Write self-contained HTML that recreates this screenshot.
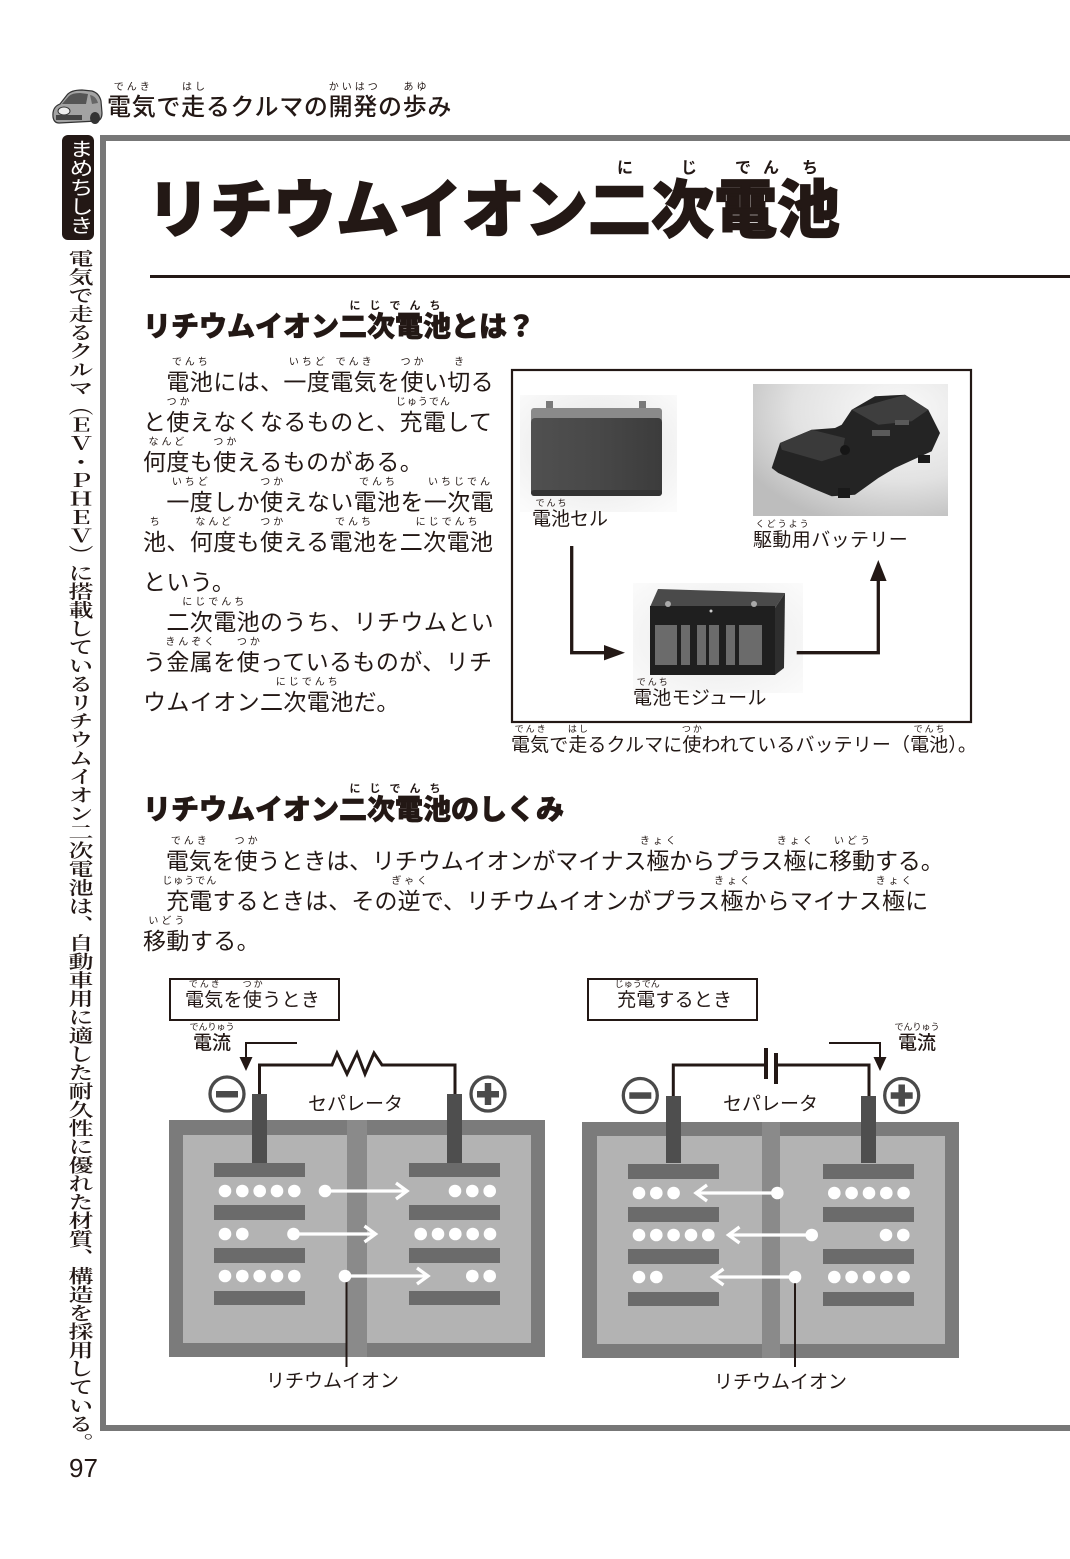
<!DOCTYPE html>
<html><head><meta charset="utf-8">
<style>
html,body{margin:0;padding:0}
body{width:1070px;height:1559px;position:relative;overflow:hidden;background:#fff;font-family:"Liberation Sans","Noto Sans CJK JP",sans-serif;color:#231815}
svg{position:absolute;left:0;top:0}
.t{position:absolute;white-space:nowrap}
.r{position:relative}
.r i{position:absolute;left:-30px;right:-30px;bottom:100%;margin-bottom:1px;font-style:normal;font-weight:400;font-size:10px;line-height:10px;letter-spacing:3px;text-indent:3px;text-align:center;-webkit-text-stroke:0}
.p{font-size:23px;line-height:40px;letter-spacing:0.4px}
.h{font-size:28px;line-height:40px;font-weight:900;-webkit-text-stroke:0.7px #231815}
.h .r i{font-size:11px;letter-spacing:9px;text-indent:9px;font-weight:700;margin-bottom:0}
.s{font-size:19px;line-height:26px}
.s .r i{font-size:9px;line-height:9px;letter-spacing:2px;text-indent:2px}
.tr{position:absolute;font-size:16px;line-height:16px;font-weight:700;width:16px;text-align:center}
</style></head><body>

<svg width="1070" height="1559" viewBox="0 0 1070 1559">
<defs>
<radialGradient id="bg1" cx="0.5" cy="0.45" r="0.7"><stop offset="0" stop-color="#e2e2e2"/><stop offset="1" stop-color="#fbfbfb"/></radialGradient>
<radialGradient id="bg2" cx="0.75" cy="0.2" r="0.9"><stop offset="0" stop-color="#fafafa"/><stop offset="0.6" stop-color="#e2e2e2"/><stop offset="1" stop-color="#bdbdbd"/></radialGradient>
<radialGradient id="bg3" cx="0.5" cy="0.5" r="0.7"><stop offset="0" stop-color="#e8e8e8"/><stop offset="1" stop-color="#fbfbfb"/></radialGradient>
<linearGradient id="cellg" x1="0" y1="0" x2="1" y2="0"><stop offset="0" stop-color="#505050"/><stop offset="0.5" stop-color="#484848"/><stop offset="1" stop-color="#3c3c3c"/></linearGradient>
</defs>

<!-- car icon -->
<g>
<path d="M53 117 Q52 107 60 104 L67 95 Q71 90 82 90 L92 91 Q99 93 101 101 L102 113 Q102 120 97 121 L59 123 Q54 123 53 117Z" fill="#a3a3a3" stroke="#333" stroke-width="1.2"/>
<path d="M62 104 L69 96 Q72 93 80 93 L88 94 L86 104 Z" fill="#555"/>
<path d="M90 95 Q96 96 98 103 L92 104 Z" fill="#666"/>
<ellipse cx="64" cy="111" rx="6" ry="4" fill="#eee" stroke="#333"/>
<rect x="56" y="115" width="26" height="5" fill="#444"/>
<ellipse cx="95" cy="118" rx="5" ry="6" fill="#333"/>
</g>

<!-- まめちしき box -->
<rect x="62" y="135" width="32" height="105" rx="6" fill="#231815"/>

<!-- frame -->
<rect x="100" y="135" width="970" height="6" fill="#777"/>
<rect x="100" y="135" width="6" height="1296" fill="#777"/>
<rect x="100" y="1425" width="970" height="6" fill="#777"/>

<!-- title rule -->
<rect x="150" y="275" width="920" height="3" fill="#231815"/>

<!-- photo box -->
<rect x="512" y="370" width="459" height="352" fill="none" stroke="#231815" stroke-width="2.2"/>

<!-- cell photo -->
<rect x="520" y="395" width="157" height="117" fill="url(#bg1)"/>
<rect x="546" y="401" width="7" height="11" fill="#7a7a7a"/>
<rect x="639" y="401" width="7" height="11" fill="#7a7a7a"/>
<rect x="531" y="408" width="131" height="15" rx="3" fill="#8a8a8a"/>
<rect x="531" y="418" width="131" height="78" rx="4" fill="url(#cellg)"/>
<rect x="531" y="490" width="131" height="6" rx="3" fill="#333"/>

<!-- drive battery photo -->
<rect x="753" y="384" width="195" height="132" fill="url(#bg2)"/>
<polygon points="771.7,468 780,443 811.7,429.7 835,428 841.7,424.7 851.7,409.7 875,396.3 905,394.7 928.3,409.7 940,433 931.7,451.3 895,468 878.3,478 855,494.7 831.7,496.3 811.7,488 778.3,473" fill="#242424"/>
<polygon points="780,443 811.7,429.7 845,438 841.7,454.7 821.7,461.3 781.7,449.7" fill="#3a3a3a"/>
<polygon points="851.7,409.7 905,394.7 928.3,409.7 911.7,421.3 878.3,424.7" fill="#3e3e3e"/>
<rect x="872" y="430" width="18" height="6" fill="#5a5a5a"/>
<rect x="895" y="420" width="14" height="5" fill="#5a5a5a"/>
<rect x="838" y="488" width="12" height="10" fill="#1a1a1a"/>
<rect x="918" y="455" width="12" height="8" fill="#1a1a1a"/>
<circle cx="845" cy="450" r="5" fill="#161616"/>

<!-- module photo -->
<rect x="633" y="583" width="170" height="110" fill="url(#bg3)"/>
<polygon points="650,607 658,589 785,593 775,608" fill="#4a4a4a"/>
<polygon points="775,608 785,593 784,668 775,675" fill="#2e2e2e"/>
<rect x="650" y="606" width="125" height="69" fill="#1f1f1f"/>
<circle cx="668" cy="604" r="3" fill="#aaa"/>
<circle cx="754" cy="604" r="3" fill="#aaa"/>
<circle cx="711" cy="611" r="1.5" fill="#ccc"/>
<g fill="#6b6b6b">
<rect x="655" y="625" width="22" height="40"/>
<rect x="681" y="625" width="9" height="40"/>
<rect x="697" y="625" width="9" height="40"/>
<rect x="709" y="625" width="10" height="40"/>
<rect x="726" y="625" width="9" height="40"/>
<rect x="739" y="625" width="23" height="40"/>
</g>

<!-- photo arrows -->
<g fill="none" stroke="#231815" stroke-width="3.3">
<path d="M571.7 546 V652.7 H607"/>
<path d="M796.7 652.7 H878.3 V578"/>
</g>
<polygon points="604,645 625,652.7 604,660.4" fill="#231815"/>
<polygon points="870,581 878.3,560 886.6,581" fill="#231815"/>

<!-- ===== Diagram A ===== -->
<rect x="170" y="979" width="169" height="41" fill="none" stroke="#231815" stroke-width="2"/>
<path d="M297 1043 H246 V1058" stroke="#231815" stroke-width="2" fill="none"/>
<polygon points="239.5,1057 252.5,1057 246,1071" fill="#231815"/>
<path d="M259.5 1095 V1065 H332 L337 1053 L347 1074 L357 1053 L365 1074 L374 1053 L382 1065 H455 V1095" stroke="#231815" stroke-width="3" fill="none"/>
<circle cx="227" cy="1094" r="17" fill="#fff" stroke="#4a4a4a" stroke-width="3.3"/>
<rect x="216" y="1091" width="22" height="6.5" fill="#4a4a4a"/>
<circle cx="488" cy="1094" r="17" fill="#fff" stroke="#4a4a4a" stroke-width="3.3"/>
<rect x="477" y="1091" width="22" height="6.5" fill="#4a4a4a"/>
<rect x="484.75" y="1083" width="6.5" height="22" fill="#4a4a4a"/>
<rect x="169" y="1120" width="376" height="237" fill="#7b7b7b"/>
<rect x="183" y="1135" width="164" height="208" fill="#b3b3b3"/>
<rect x="367" y="1135" width="164" height="208" fill="#b3b3b3"/>
<rect x="347" y="1120" width="20" height="237" fill="#8a8a8a"/>
<rect x="252" y="1094" width="15" height="69" fill="#4e4e4e"/>
<rect x="447" y="1094" width="15" height="69" fill="#4e4e4e"/>
<g fill="#6b6b6b">
<rect x="214" y="1163" width="91" height="14"/><rect x="214" y="1205" width="91" height="15"/><rect x="214" y="1248" width="91" height="15"/><rect x="214" y="1291" width="91" height="14"/>
<rect x="409" y="1163" width="91" height="14"/><rect x="409" y="1205" width="91" height="15"/><rect x="409" y="1248" width="91" height="15"/><rect x="409" y="1291" width="91" height="14"/>
</g>
<line x1="346.5" y1="1276" x2="346.5" y2="1367" stroke="#231815" stroke-width="2"/>
<g fill="#fff">
<circle cx="225" cy="1191" r="6.3"/><circle cx="242.3" cy="1191" r="6.3"/><circle cx="259.7" cy="1191" r="6.3"/><circle cx="277" cy="1191" r="6.3"/><circle cx="294.3" cy="1191" r="6.3"/>
<circle cx="455" cy="1191" r="6.3"/><circle cx="472.3" cy="1191" r="6.3"/><circle cx="489.7" cy="1191" r="6.3"/>
<circle cx="225" cy="1234" r="6.3"/><circle cx="242.3" cy="1234" r="6.3"/>
<circle cx="420.7" cy="1234" r="6.3"/><circle cx="438" cy="1234" r="6.3"/><circle cx="455.3" cy="1234" r="6.3"/><circle cx="472.7" cy="1234" r="6.3"/><circle cx="490" cy="1234" r="6.3"/>
<circle cx="225" cy="1276" r="6.3"/><circle cx="242.3" cy="1276" r="6.3"/><circle cx="259.7" cy="1276" r="6.3"/><circle cx="277" cy="1276" r="6.3"/><circle cx="294.3" cy="1276" r="6.3"/>
<circle cx="472.3" cy="1276" r="6.3"/><circle cx="489.7" cy="1276" r="6.3"/>
<circle cx="325" cy="1191" r="6.3"/><circle cx="293.5" cy="1234" r="6.3"/><circle cx="345" cy="1276" r="6.3"/>
</g>
<g fill="none" stroke="#fff" stroke-width="3.3">
<path d="M325 1191 H406"/><path d="M396 1183 L407 1191 L396 1199"/>
<path d="M293.5 1234 H375"/><path d="M364.5 1226 L375.5 1234 L364.5 1242"/>
<path d="M345 1276 H428"/><path d="M417 1268 L428 1276 L417 1284"/>
</g>

<!-- ===== Diagram B ===== -->
<rect x="588" y="979" width="169" height="41" fill="none" stroke="#231815" stroke-width="2"/>
<path d="M829 1043 H880 V1058" stroke="#231815" stroke-width="2" fill="none"/>
<polygon points="873.5,1057 886.5,1057 880,1071" fill="#231815"/>
<path d="M673.3 1096 V1065 H765" stroke="#231815" stroke-width="3" fill="none"/>
<path d="M777 1065 H869 V1096" stroke="#231815" stroke-width="3" fill="none"/>
<rect x="764" y="1048" width="4" height="31" fill="#231815"/>
<rect x="774" y="1053" width="4" height="31" fill="#231815"/>
<circle cx="640.3" cy="1095.5" r="17" fill="#fff" stroke="#4a4a4a" stroke-width="3.3"/>
<rect x="629.3" y="1092.3" width="22" height="6.5" fill="#4a4a4a"/>
<circle cx="901.7" cy="1095.5" r="17" fill="#fff" stroke="#4a4a4a" stroke-width="3.3"/>
<rect x="890.7" y="1092.3" width="22" height="6.5" fill="#4a4a4a"/>
<rect x="898.45" y="1084.5" width="6.5" height="22" fill="#4a4a4a"/>
<rect x="582" y="1122" width="377" height="236" fill="#7b7b7b"/>
<rect x="597" y="1136" width="165" height="208" fill="#b3b3b3"/>
<rect x="780" y="1136" width="165" height="208" fill="#b3b3b3"/>
<rect x="762" y="1122" width="18" height="236" fill="#8a8a8a"/>
<rect x="666" y="1096" width="15" height="67" fill="#4e4e4e"/>
<rect x="861" y="1096" width="15" height="67" fill="#4e4e4e"/>
<g fill="#6b6b6b">
<rect x="628" y="1164" width="91" height="15"/><rect x="628" y="1207" width="91" height="15"/><rect x="628" y="1249" width="91" height="15"/><rect x="628" y="1292" width="91" height="14"/>
<rect x="823" y="1164" width="91" height="15"/><rect x="823" y="1207" width="91" height="15"/><rect x="823" y="1249" width="91" height="15"/><rect x="823" y="1292" width="91" height="14"/>
</g>
<line x1="795" y1="1277" x2="795" y2="1367" stroke="#231815" stroke-width="2"/>
<g fill="#fff">
<circle cx="639" cy="1193" r="6.3"/><circle cx="656.3" cy="1193" r="6.3"/><circle cx="673.6" cy="1193" r="6.3"/>
<circle cx="834.3" cy="1193" r="6.3"/><circle cx="851.6" cy="1193" r="6.3"/><circle cx="869" cy="1193" r="6.3"/><circle cx="886.3" cy="1193" r="6.3"/><circle cx="903.6" cy="1193" r="6.3"/>
<circle cx="639" cy="1235" r="6.3"/><circle cx="656.3" cy="1235" r="6.3"/><circle cx="673.6" cy="1235" r="6.3"/><circle cx="691" cy="1235" r="6.3"/><circle cx="708.3" cy="1235" r="6.3"/>
<circle cx="886" cy="1235" r="6.3"/><circle cx="903.3" cy="1235" r="6.3"/>
<circle cx="639" cy="1277" r="6.3"/><circle cx="656.3" cy="1277" r="6.3"/>
<circle cx="834.3" cy="1277" r="6.3"/><circle cx="851.6" cy="1277" r="6.3"/><circle cx="869" cy="1277" r="6.3"/><circle cx="886.3" cy="1277" r="6.3"/><circle cx="903.6" cy="1277" r="6.3"/>
<circle cx="777.3" cy="1193" r="6.3"/><circle cx="811.7" cy="1235" r="6.3"/><circle cx="795" cy="1277" r="6.3"/>
</g>
<g fill="none" stroke="#fff" stroke-width="3.3">
<path d="M777.3 1193 H696"/><path d="M707 1185 L696 1193 L707 1201"/>
<path d="M811.7 1235 H729"/><path d="M739.5 1227 L728.5 1235 L739.5 1243"/>
<path d="M795 1277 H713"/><path d="M723.5 1269 L712.5 1277 L723.5 1285"/>
</g>
</svg>

<!-- header -->
<div class="t" style="left:107px;top:88px;font-size:24px;line-height:40px;letter-spacing:0.7px;font-weight:500"><span class="r">電気<i>でんき</i></span>で<span class="r">走<i>はし</i></span>るクルマの<span class="r">開発<i>かいはつ</i></span>の<span class="r">歩<i>あゆ</i></span>み</div>

<!-- まめちしき -->
<div class="t" style="left:62px;top:139px;width:32px;line-height:32px;font-size:24px;color:#fff;writing-mode:vertical-rl;text-align:center;transform:scaleY(0.8);transform-origin:0 0">まめちしき</div>

<!-- vertical column -->
<div style="position:absolute;left:63px;top:249px;width:30px;height:1600px;writing-mode:vertical-rl;font-family:'Liberation Serif','Noto Serif CJK SC',serif;font-weight:600;font-size:25px;line-height:30px;transform:scaleY(0.74);transform-origin:0 0;white-space:nowrap">電気で走るクルマ（ＥＶ・ＰＨＥＶ）に搭載しているリチウムイオン二次電池は、自動車用に適した耐久性に優れた材質、構造を採用している。</div>

<!-- page number -->
<div class="t" style="left:69px;top:1455px;font-size:26px;line-height:26px">97</div>

<!-- title -->
<div class="t" style="left:147px;top:176px;font-size:63px;line-height:70px;font-weight:900;-webkit-text-stroke:1.5px #231815">リチウムイオン二次電池</div>
<div class="tr" style="left:617px;top:161px">に</div>
<div class="tr" style="left:681px;top:161px">じ</div>
<div class="tr" style="left:735px;top:161px">で</div>
<div class="tr" style="left:763px;top:161px">ん</div>
<div class="tr" style="left:802px;top:161px">ち</div>

<!-- heading 1 -->
<div class="t h" style="left:143px;top:307px">リチウムイオン<span class="r">二次電池<i>にじでんち</i></span>とは？</div>

<!-- paragraph 1 -->
<div class="t p" style="left:143px;top:362px">　<span class="r">電池<i>でんち</i></span>には、<span class="r">一度<i>いちど</i></span><span class="r">電気<i>でんき</i></span>を<span class="r">使<i>つか</i></span>い<span class="r">切<i>き</i></span>る<br>と<span class="r">使<i>つか</i></span>えなくなるものと、<span class="r">充電<i style="letter-spacing:1px;text-indent:1px">じゅうでん</i></span>して<br><span class="r">何度<i>なんど</i></span>も<span class="r">使<i>つか</i></span>えるものがある。<br>　<span class="r">一度<i>いちど</i></span>しか<span class="r">使<i>つか</i></span>えない<span class="r">電池<i>でんち</i></span>を<span class="r">一次電<i>いちじでん</i></span><br><span class="r">池<i>ち</i></span>、<span class="r">何度<i>なんど</i></span>も<span class="r">使<i>つか</i></span>える<span class="r">電池<i>でんち</i></span>を<span class="r">二次電池<i>にじでんち</i></span><br>という。<br>　<span class="r">二次電池<i>にじでんち</i></span>のうち、リチウムとい<br>う<span class="r">金属<i>きんぞく</i></span>を<span class="r">使<i>つか</i></span>っているものが、リチ<br>ウムイオン<span class="r">二次電池<i>にじでんち</i></span>だ。</div>

<!-- photo labels -->
<div class="t s" style="left:532px;top:507px"><span class="r">電池<i>でんち</i></span>セル</div>
<div class="t s" style="left:753px;top:528px;letter-spacing:0.4px"><span class="r">駆動用<i>くどうよう</i></span>バッテリー</div>
<div class="t s" style="left:633px;top:686px;letter-spacing:0.3px"><span class="r">電池<i>でんち</i></span>モジュール</div>
<div class="t s" style="left:511px;top:733px;letter-spacing:0.1px"><span class="r">電気<i>でんき</i></span>で<span class="r">走<i>はし</i></span>るクルマに<span class="r">使<i>つか</i></span>われているバッテリー（<span class="r">電池<i>でんち</i></span>）。</div>

<!-- heading 2 -->
<div class="t h" style="left:143px;top:790px">リチウムイオン<span class="r">二次電池<i>にじでんち</i></span>のしくみ</div>

<!-- paragraph 2 -->
<div class="t p" style="left:143px;top:841px;letter-spacing:-0.1px">　<span class="r">電気<i>でんき</i></span>を<span class="r">使<i>つか</i></span>うときは、リチウムイオンがマイナス<span class="r">極<i>きょく</i></span>からプラス<span class="r">極<i>きょく</i></span>に<span class="r">移動<i>いどう</i></span>する。</div>
<div class="t p" style="left:143px;top:881px;letter-spacing:0.15px">　<span class="r">充電<i style="letter-spacing:1px;text-indent:1px">じゅうでん</i></span>するときは、その<span class="r">逆<i>ぎゃく</i></span>で、リチウムイオンがプラス<span class="r">極<i>きょく</i></span>からマイナス<span class="r">極<i>きょく</i></span>に</div>
<div class="t p" style="left:143px;top:921px"><span class="r">移動<i>いどう</i></span>する。</div>

<!-- diagram labels -->
<div class="t s" style="left:185px;top:988px;letter-spacing:0.3px"><span class="r">電気<i>でんき</i></span>を<span class="r">使<i>つか</i></span>うとき</div>
<div class="t s" style="left:617px;top:988px;letter-spacing:0.2px"><span class="r">充電<i style="letter-spacing:0">じゅうでん</i></span>するとき</div>
<div class="t s" style="left:193px;top:1031px;font-weight:500"><span class="r">電流<i style="letter-spacing:0;text-indent:0">でんりゅう</i></span></div>
<div class="t s" style="left:898px;top:1031px;font-weight:500"><span class="r">電流<i style="letter-spacing:0;text-indent:0">でんりゅう</i></span></div>
<div class="t s" style="left:308px;top:1092px">セパレータ</div>
<div class="t s" style="left:723px;top:1092px">セパレータ</div>
<div class="t s" style="left:266px;top:1369px">リチウムイオン</div>
<div class="t s" style="left:714px;top:1370px">リチウムイオン</div>

</body></html>
